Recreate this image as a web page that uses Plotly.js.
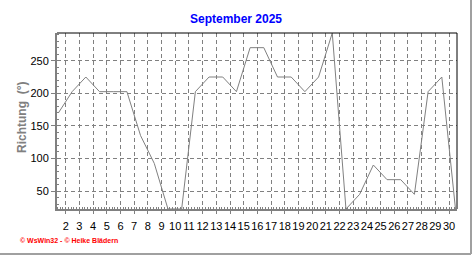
<!DOCTYPE html>
<html>
<head>
<meta charset="utf-8">
<script src="https://cdn.plot.ly/plotly-3.0.1.min.js"></script>
<style>
  html, body { margin: 0; padding: 0; background: #ffffff; }
  #chart { width: 472px; height: 255px; }
</style>
</head>
<body>
<div id="chart"></div>
<script>
// Day of month (daily mean wind direction, September 2025)
const days = [1,2,3,4,5,6,7,8,9,10,11,12,13,14,15,16,17,18,19,20,21,22,23,24,25,26,27,28,29,30];
// Wind direction in degrees
const direction = [170,202.5,225,202.5,202.5,202.5,135,92.5,22.5,22.5,202.5,225,225,202.5,270,270,225,225,202.5,225,292.5,22.5,45,90,67.5,67.5,45,202.5,225,22.5];
// Tick labels
const xTicks = [2,3,4,5,6,7,8,9,10,11,12,13,14,15,16,17,18,19,20,21,22,23,24,25,26,27,28,29,30];
const yTicks = [50,100,150,200,250];

const titleText = 'September 2025';
const yTitleText = 'Richtung\u00a0\u00a0(°)';
const footerText = '© WsWin32 - © Heike Blädern';

const dayOffset = 0.47; // daily values are drawn in the middle of each day

const trace = {
  x: days.map(d => d + dayOffset),
  y: direction,
  type: 'scatter',
  mode: 'lines',
  line: { color: '#808080', width: 1 },
  hoverinfo: 'skip'
};

const layout = {
  width: 472,
  height: 255,
  margin: { l: 57, r: 15, t: 33, b: 46 },
  paper_bgcolor: '#ffffff',
  plot_bgcolor: '#ffffff',
  showlegend: false,
  font: { family: 'Liberation Sans, Arial, sans-serif', color: '#000000', size: 11 },
  title: {
    text: '<b>' + titleText + '</b>',
    font: { family: 'Liberation Sans, Arial, sans-serif', size: 12, color: '#0000ff' },
    x: 0.5, xref: 'container', xanchor: 'center',
    y: 1 - 19 / 255, yref: 'container', yanchor: 'middle'
  },
  xaxis: {
    range: [1.3645, 30.58],
    tickmode: 'array',
    tickvals: xTicks,
    ticktext: xTicks.map(String),
    tickangle: 0,
    ticks: 'outside', ticklen: 3, tickcolor: '#808080', tickwidth: 1,
    ticklabelstandoff: 3,
    tickfont: { size: 11, color: '#000000' },
    showgrid: true, gridcolor: '#808080', gridwidth: 1, griddash: '4px,3px',
    showline: true, linecolor: '#808080', linewidth: 2,
    zeroline: false,
    minor: { dtick: 0.2, tick0: 2, ticks: 'inside', ticklen: 2, tickcolor: '#808080', tickwidth: 1, showgrid: false }
  },
  yaxis: {
    range: [22.5, 292.5],
    tickmode: 'array',
    tickvals: yTicks,
    ticktext: yTicks.map(String),
    ticks: 'outside', ticklen: 4, tickcolor: '#808080', tickwidth: 1,
    tickfont: { size: 11, color: '#000000' },
    showgrid: true, gridcolor: '#808080', gridwidth: 1, griddash: '4px,3px',
    showline: true, linecolor: '#808080', linewidth: 2,
    zeroline: false,
    minor: { dtick: 10, tick0: 0, ticks: 'inside', ticklen: 2, tickcolor: '#808080', tickwidth: 1, showgrid: false }
  },
  shapes: [
    // top and right plot border (black)
    { type: 'line', xref: 'paper', yref: 'paper', x0: 0, x1: 1, y0: 1, y1: 1, line: { color: '#000000', width: 1 } },
    { type: 'line', xref: 'paper', yref: 'paper', x0: 1, x1: 1, y0: 0, y1: 1, line: { color: '#000000', width: 1 } },
    // outer frame lines (right and bottom, gray)
    { type: 'line', xref: 'paper', yref: 'paper', x0: (471 - 57) / 400, x1: (471 - 57) / 400, y0: (209 - 254) / 176, y1: 209 / 176, line: { color: '#a0a0a0', width: 2 } },
    { type: 'line', xref: 'paper', yref: 'paper', x0: -57 / 400, x1: (471 - 57) / 400, y0: (209 - 254) / 176, y1: (209 - 254) / 176, line: { color: '#a0a0a0', width: 2 } }
  ],
  annotations: [
    {
      text: '<b>' + yTitleText + '</b>',
      xref: 'paper', yref: 'paper', x: 0, y: 0.5,
      xanchor: 'center', yanchor: 'middle',
      xshift: -35, yshift: 3,
      textangle: -90, showarrow: false,
      font: { family: 'Liberation Sans, Arial, sans-serif', size: 12, color: '#808080' }
    },
    {
      text: '<b>' + footerText + '</b>',
      xref: 'paper', yref: 'paper', x: (18 - 57) / 400, y: (209 - 240.5) / 176,
      xanchor: 'left', yanchor: 'middle',
      showarrow: false,
      font: { family: 'Liberation Sans, Arial, sans-serif', size: 7, color: '#ff0000' }
    }
  ]
};

Plotly.newPlot('chart', [trace], layout, { displayModeBar: false, staticPlot: true });
</script>
</body>
</html>
